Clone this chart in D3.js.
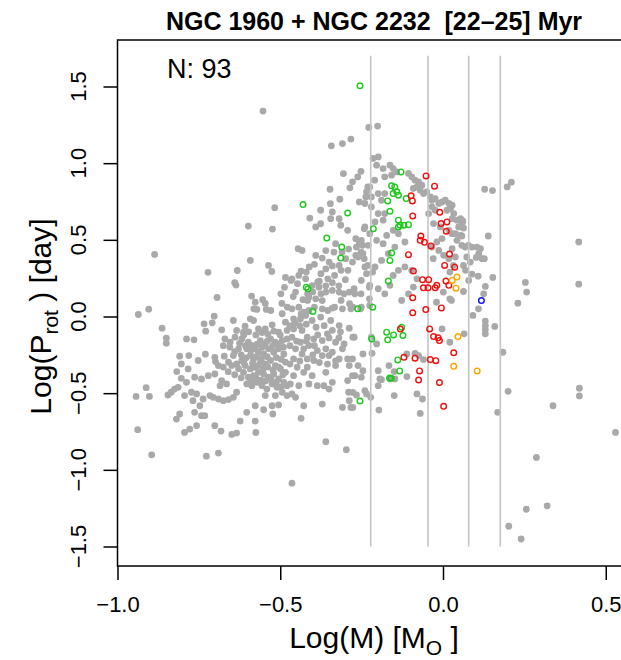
<!DOCTYPE html>
<html>
<head>
<meta charset="utf-8">
<script src="https://cdn.jsdelivr.net/npm/d3@7"></script>
<style>
  body { margin: 0; background: #fff; }
  text { font-family: "Liberation Sans", Arial, Helvetica, sans-serif; white-space: pre; }
</style>
</head>
<body>
<div id="chart"></div>
<script>
var xTicks = [-1.0, -0.5, 0.0, 0.5];
var yTicks = [-1.5, -1.0, -0.5, 0.0, 0.5, 1.0, 1.5];
// log10 of 0.6, 0.9, 1.2, 1.5 Msun
var massLines = [-0.222, -0.046, 0.079, 0.176];
var titleText = "NGC 1960 + NGC 2232  [22\u201325] Myr";
var countText = "N: 93";

// [log M, log P] of all stars (grey)
var grayStars = [
  [-0.553,1.34],[-0.517,0.71],[-0.598,0.59],[-0.524,0.57],[-0.886,0.405],[-0.592,0.366],[-0.536,0.333],[-0.526,0.294],
  [-0.722,0.288],[-0.632,0.30],[-0.64,0.22],[-0.636,0.205],[-0.484,0.255],[-0.487,0.19],[-0.694,0.124],[-0.588,0.133],
  [-0.577,0.093],[-0.554,0.11],[-0.546,0.085],[-0.495,0.085],[-0.498,0.148],[-0.581,0.050],[-0.529,0.039],[-0.478,0.061],
  [-0.936,0.013],[-0.904,0.048],[-0.863,-0.076],[-0.850,-0.141],[-0.850,-0.174],[-0.788,-0.146],[-0.765,-0.152],[-0.734,-0.048],
  [-0.709,-0.041],[-0.703,0.002],[-0.729,-0.096],[-0.680,-0.087],[-0.644,-0.026],[-0.572,0.046],[-0.543,0.046],[-0.608,-0.063],
  [-0.592,-0.015],[-0.582,-0.026],[-0.567,-0.081],[-0.546,-0.081],[-0.525,-0.054],[-0.494,0.018],[-0.484,-0.037],[-0.505,-0.102],
  [-0.479,-0.091],[-0.634,-0.091],[-0.613,-0.102],
  [-0.670,-0.146],[-0.654,-0.168],[-0.639,-0.135],[-0.618,-0.146],[-0.598,-0.168],[-0.587,-0.189],[-0.577,-0.211],[-0.561,-0.157],
  [-0.546,-0.179],[-0.530,-0.146],[-0.515,-0.168],[-0.494,-0.157],[-0.479,-0.146],[-0.603,-0.211],[-0.592,-0.255],[-0.582,-0.277],
  [-0.567,-0.233],[-0.551,-0.244],[-0.536,-0.211],[-0.520,-0.233],[-0.505,-0.211],[-0.489,-0.244],[-0.484,-0.298],[-0.628,-0.211],
  [-0.644,-0.255],[-0.659,-0.298],[-0.649,-0.320],[-0.634,-0.309],[-0.618,-0.287],[-0.608,-0.320],[-0.592,-0.342],[-0.577,-0.331],
  [-0.561,-0.298],[-0.546,-0.309],[-0.530,-0.287],[-0.515,-0.320],[-0.499,-0.342],[-0.484,-0.364],[-0.613,-0.364],[-0.598,-0.396],
  [-0.582,-0.385],[-0.567,-0.364],[-0.551,-0.375],[-0.536,-0.396],[-0.520,-0.375],[-0.505,-0.407],[-0.489,-0.429],[-0.479,-0.451],
  [-0.603,-0.440],[-0.587,-0.451],[-0.572,-0.429],[-0.556,-0.451],[-0.541,-0.473],[-0.525,-0.440],[-0.510,-0.462],[-0.494,-0.494],
  [-0.479,-0.516],
  [-0.612,-0.120],[-0.597,-0.100],[-0.575,-0.120],[-0.556,-0.105],[-0.538,-0.115],[-0.520,-0.095],[-0.500,-0.120],
  [-0.625,-0.175],[-0.607,-0.190],[-0.590,-0.222],[-0.571,-0.180],[-0.556,-0.200],[-0.540,-0.160],[-0.523,-0.190],[-0.507,-0.180],
  [-0.490,-0.200],[-0.640,-0.230],[-0.620,-0.250],[-0.605,-0.270],[-0.575,-0.262],[-0.558,-0.275],[-0.540,-0.262],[-0.512,-0.268],
  [-0.497,-0.280],[-0.628,-0.340],[-0.612,-0.300],[-0.585,-0.305],[-0.568,-0.320],[-0.553,-0.340],[-0.538,-0.330],[-0.522,-0.350],
  [-0.505,-0.330],[-0.492,-0.380],[-0.590,-0.420],[-0.575,-0.400],[-0.560,-0.415],[-0.545,-0.420],[-0.528,-0.410],[-0.512,-0.430],
  [-0.497,-0.460],[-0.620,-0.400],[-0.640,-0.380],[-0.660,-0.360],[-0.675,-0.330],[-0.690,-0.320],[-0.655,-0.200],[-0.675,-0.190],
  [-0.809,-0.259],[-0.781,-0.255],[-0.804,-0.309],[-0.818,-0.359],[-0.783,-0.342],[-0.752,-0.287],[-0.730,-0.246],[-0.701,-0.266],
  [-0.699,-0.294],[-0.672,-0.259],[-0.804,-0.403],[-0.788,-0.429],[-0.763,-0.396],[-0.742,-0.407],[-0.721,-0.386],[-0.701,-0.375],
  [-0.680,-0.418],[-0.685,-0.451],[-0.665,-0.440],[-0.814,-0.462],[-0.835,-0.494],[-0.845,-0.512],[-0.825,-0.473],[-0.794,-0.516],
  [-0.773,-0.494],[-0.757,-0.505],[-0.737,-0.538],[-0.716,-0.516],[-0.706,-0.527],[-0.690,-0.538],[-0.675,-0.549],[-0.659,-0.542],
  [-0.644,-0.527],[-0.634,-0.494],[-0.912,-0.464],[-0.943,-0.521],[-0.902,-0.521],[-0.768,-0.549],[-0.763,-0.625],[-0.747,-0.582],
  [-0.742,-0.647],[-0.732,-0.647],[-0.809,-0.636],[-0.819,-0.669],[-0.794,-0.756],[-0.778,-0.734],[-0.757,-0.712],[-0.701,-0.712],
  [-0.682,-0.747],[-0.649,-0.769],[-0.634,-0.760],[-0.623,-0.682],[-0.603,-0.625],[-0.577,-0.682],[-0.575,-0.756],[-0.938,-0.738],
  [-0.895,-0.902],[-0.727,-0.911],[-0.690,-0.891],[-0.577,-0.582],[-0.551,-0.608],[-0.525,-0.582],[-0.523,-0.636],[-0.505,-0.577],
  [-0.546,-0.516],[-0.515,-0.516],
  [-0.343,1.113],[-0.309,1.128],[-0.283,1.157],[-0.306,0.932],[-0.278,0.878],[-0.347,0.830],[-0.286,0.839],[-0.346,0.736],
  [-0.317,0.765],[-0.376,0.693],[-0.340,0.682],[-0.409,0.642],[-0.345,0.638],[-0.319,0.638],[-0.391,0.584],[-0.376,0.605],
  [-0.314,0.595],[-0.293,0.562],[-0.330,0.475],[-0.445,0.442],[-0.433,0.431],[-0.391,0.398],[-0.371,0.381],[-0.350,0.355],
  [-0.335,0.420],[-0.319,0.333],[-0.299,0.377],[-0.278,0.355],[-0.288,0.159],[-0.304,0.148],[-0.319,0.159],[-0.340,0.170],
  [-0.360,0.159],[-0.381,0.191],[-0.402,0.202],[-0.422,0.246],[-0.443,0.268],[-0.464,0.246],[-0.453,0.159],[-0.412,0.126],
  [-0.391,0.115],[-0.371,0.104],
  [-0.460,0.130],[-0.430,0.110],[-0.400,0.160],[-0.380,0.230],[-0.360,0.200],[-0.340,0.220],[-0.320,0.200],[-0.300,0.240],
  [-0.420,0.290],[-0.395,0.340],[-0.360,0.310],[-0.340,0.330],[-0.310,0.420],[-0.290,0.440],[-0.360,0.430],
  [-0.228,1.233],[-0.201,1.242],[-0.252,0.947],[-0.262,0.910],[-0.231,0.845],[-0.237,0.780],[-0.257,0.747],[-0.242,0.573],
  [-0.268,0.507],[-0.257,0.475],[-0.247,0.464],[-0.268,0.398],[-0.252,0.420],[-0.242,0.377],[-0.231,0.333],[-0.216,0.290],
  [-0.226,0.191],[-0.252,0.148],[-0.273,0.181],[-0.226,0.115],
  [-0.436,0.296],[-0.411,0.323],[-0.375,0.279],[-0.385,0.225],[-0.354,0.246],[-0.333,0.268],[-0.313,0.301],[-0.447,0.214],
  [-0.467,0.235],[-0.416,0.148],[-0.375,0.148],[-0.436,0.017],[-0.416,0.105],[-0.395,0.061],[-0.354,0.039],[-0.333,0.061],
  [-0.313,0.105],[-0.287,0.083],[-0.271,0.148],[-0.251,0.061],[-0.292,0.301],[-0.240,0.323],[-0.261,0.388],
  [-0.199,1.041],[-0.215,1.031],[-0.204,0.987],[-0.184,0.965],[-0.163,0.987],[-0.153,0.965],[-0.142,0.943],[-0.158,0.922],
  [-0.179,0.911],[-0.210,0.889],[-0.225,0.845],[-0.235,0.813],[-0.220,0.780],[-0.199,0.802],[-0.179,0.802],[-0.189,0.758],
  [-0.240,0.737],[-0.220,0.715],[-0.199,0.671],[-0.179,0.671],[-0.184,0.628],[-0.209,0.617],[-0.240,0.584],[-0.225,0.540],
  [-0.251,0.497],[-0.266,0.453],[-0.246,0.410],[-0.230,0.464],[-0.204,0.497],[-0.184,0.475],[-0.173,0.529],[-0.153,0.562],
  [-0.137,0.540],[-0.117,0.486],[-0.148,0.453],[-0.168,0.410],[-0.189,0.366],[-0.209,0.323],[-0.235,0.279],[-0.251,0.235],
  [-0.225,0.203],[-0.199,0.181],[-0.179,0.148],[-0.163,0.203],[-0.153,0.268],[-0.137,0.301],[-0.117,0.323],[-0.096,0.301],
  [-0.080,0.246],[-0.091,0.192],[-0.106,0.148],[-0.127,0.105],
  [-0.106,0.933],[-0.096,0.911],[-0.086,0.889],[-0.075,0.878],[-0.080,0.845],[-0.091,0.835],[-0.070,0.824],[-0.065,0.856],
  [-0.060,0.802],[-0.050,0.813],[-0.039,0.780],[-0.034,0.758],[-0.024,0.769],[-0.013,0.737],[-0.003,0.747],[0.007,0.758],
  [0.018,0.737],[0.028,0.726],[0.023,0.704],[0.012,0.693],[0.033,0.671],[0.028,0.638],[0.043,0.628],[0.054,0.638],
  [0.059,0.606],[0.048,0.584],[0.038,0.540],[0.054,0.529],[0.043,0.497],[-0.034,0.715],[-0.024,0.693],[-0.044,0.671],
  [-0.029,0.606],[-0.008,0.584],[0.018,0.562],[0.028,0.540],[-0.003,0.508],[-0.019,0.486],[-0.034,0.453],[-0.013,0.431],
  [0.002,0.399],[0.028,0.442],[0.018,0.377],[0.038,0.388],[0.032,0.333],[0.021,0.290],[-0.030,0.377],[0.001,0.159],
  [0.021,0.115],[-0.020,0.093],
  [0.128,0.830],[0.152,0.821],[0.197,0.845],[0.210,0.876],[0.061,0.623],[0.063,0.577],[0.058,0.525],[0.139,0.525],
  [0.058,0.464],[0.068,0.453],[0.078,0.464],[0.089,0.453],[0.104,0.453],[0.115,0.442],[0.073,0.388],[0.102,0.385],
  [0.120,0.377],[0.127,0.377],[0.063,0.333],[0.084,0.355],[0.089,0.276],[0.108,0.263],[0.153,0.255],[0.130,0.196],
  [0.125,0.148],[0.063,0.163],[0.417,0.486],[0.417,0.211],[0.253,0.222],[0.257,0.159],[0.230,0.087],[0.079,0.235],
  [0.069,0.301],[0.110,0.410],
  [-0.464,0.050],[-0.443,0.061],[-0.428,0.028],[-0.412,0.039],[-0.371,0.050],[-0.340,0.055],[-0.309,0.050],[-0.283,0.050],
  [-0.459,-0.015],[-0.438,-0.015],[-0.422,0.007],[-0.402,-0.026],[-0.376,-0.004],[-0.345,-0.026],[-0.319,-0.059],[-0.288,-0.076],
  [-0.304,-0.179],[-0.330,-0.168],[-0.355,-0.113],[-0.371,-0.157],[-0.397,-0.146],[-0.417,-0.135],[-0.433,-0.091],[-0.459,-0.081],
  [-0.464,-0.135],[-0.438,-0.168],[-0.412,-0.189],[-0.386,-0.222],[-0.453,-0.211],[-0.428,-0.211],[-0.360,-0.211],[-0.340,-0.233],
  [-0.309,-0.211],[-0.293,-0.277],[-0.319,-0.277],[-0.350,-0.255],[-0.371,-0.255],[-0.397,-0.287],[-0.417,-0.277],[-0.433,-0.244],
  [-0.459,-0.277],[-0.448,-0.331],[-0.417,-0.331],[-0.402,-0.386],[-0.428,-0.364],[-0.459,-0.386],[-0.469,-0.440],[-0.443,-0.451],
  [-0.412,-0.440],[-0.386,-0.451],[-0.366,-0.451],[-0.350,-0.473],[-0.340,-0.429],[-0.360,-0.364],[-0.330,-0.320],[-0.288,-0.320],
  [-0.293,-0.418],[-0.290,-0.494],[-0.288,-0.549],[-0.309,-0.593],[-0.283,-0.593],[-0.371,-0.571],[-0.428,-0.582],[-0.464,-0.505],
  [-0.453,-0.527],[-0.436,-0.664],[-0.360,-0.817],[-0.297,-0.869],[-0.464,-1.087],[-0.273,-0.135],[-0.278,-0.277],[-0.278,-0.386],
  [-0.470,-0.060],[-0.455,-0.040],[-0.440,-0.060],[-0.420,-0.050],[-0.390,-0.070],[-0.365,-0.060],[-0.340,-0.090],[-0.315,-0.100],
  [-0.470,-0.190],[-0.450,-0.160],[-0.420,-0.160],[-0.395,-0.190],[-0.385,-0.120],[-0.350,-0.140],[-0.320,-0.140],
  [-0.470,-0.310],[-0.440,-0.290],[-0.400,-0.250],[-0.380,-0.300],[-0.355,-0.310],[-0.330,-0.290],
  [-0.277,0.061],[-0.253,0.050],[-0.225,0.072],[-0.277,-0.135],[-0.246,-0.244],[-0.220,-0.135],[-0.204,-0.179],[-0.246,-0.353],
  [-0.251,-0.396],[-0.271,-0.386],[-0.277,-0.495],[-0.266,-0.512],[-0.240,-0.484],[-0.235,-0.505],[-0.222,-0.527],[-0.277,-0.593],
  [-0.261,-0.320],[-0.218,-0.240],[-0.199,-0.353],[-0.194,-0.407],[-0.189,-0.412],[-0.199,-0.451],[-0.197,-0.610],[-0.150,-0.516],
  [-0.166,-0.320],[-0.150,-0.359],[-0.163,-0.407],[-0.148,-0.407],[-0.111,-0.244],[-0.086,-0.240],[-0.075,-0.255],[-0.060,-0.281],
  [-0.080,-0.505],[-0.063,-0.538],[-0.070,-0.632],[-0.111,-0.392],[-0.003,-0.081],[0.021,-0.168],[0.026,0.105],
  [0.109,0.050],[0.092,0.007],[0.130,-0.030],[0.130,-0.059],[0.130,-0.085],[0.130,-0.113],[0.159,-0.065],[0.065,-0.113],
  [0.184,-0.233],[0.200,-0.488],[0.168,-0.625],[0.338,-0.582],[0.419,-0.468],[0.419,-0.518],[0.530,-0.756],[0.287,-0.919],
  [0.256,-1.257],[0.320,-1.235],[0.202,-1.368],[0.240,-1.451]
];

// cluster members by mass bin
var greenStars = [
  [-0.255,1.505],[-0.430,0.730],[-0.293,0.675],[-0.357,0.512],[-0.311,0.453],[-0.314,0.381],[-0.420,0.191],[-0.415,0.181],
  [-0.214,0.573],[-0.168,0.231],[-0.158,0.414],[-0.163,0.366],[-0.129,0.943],[-0.158,0.852],[-0.148,0.845],[-0.142,0.813],
  [-0.137,0.791],[-0.153,0.802],[-0.170,0.754],[-0.163,0.686],[-0.137,0.628],[-0.132,0.595],[-0.137,0.584],[-0.106,0.599],
  [-0.120,0.595],[-0.113,0.769],
  [-0.400,0.033],[-0.262,0.050],[-0.216,0.061],[-0.173,-0.102],[-0.152,-0.120],[-0.123,-0.124],[-0.127,-0.070],[-0.170,-0.152],
  [-0.219,-0.146],[-0.139,-0.283],[-0.133,-0.355],[-0.164,-0.401],[-0.159,-0.403],[-0.255,-0.551]
];
var redStars = [
  [-0.052,0.917],[-0.026,0.850],[-0.098,0.787],[-0.094,0.754],[-0.093,0.656],[-0.010,0.680],[-0.006,0.606],[0.012,0.617],
  [0.010,0.556],[-0.068,0.525],[-0.070,0.497],[-0.057,0.484],[-0.037,0.460],[-0.106,0.403],[0.020,0.407],[0.005,0.333],
  [0.036,0.322],[-0.091,0.296],[-0.063,0.240],[-0.044,0.240],[-0.060,0.187],[-0.046,0.187],[-0.019,0.203],[-0.024,0.187],
  [0.009,0.231],[0.018,0.203],[-0.093,0.122],
  [-0.093,0.024],[-0.053,0.045],[-0.005,0.056],[-0.041,-0.081],[-0.029,-0.131],[-0.015,-0.139],[-0.011,-0.157],[0.033,-0.237],
  [-0.120,-0.266],[-0.086,-0.272],[-0.039,-0.281],[-0.022,-0.288],[-0.072,-0.355],[-0.075,-0.414],[-0.011,-0.431],[0.002,-0.586],
  [-0.131,-0.082]
];
var orangeStars = [[0.028,0.235],[0.043,0.257],[0.040,0.185],[0.046,-0.131],[0.033,-0.325],[0.105,-0.355]];
var blueStars = [[0.118,0.104]];

var width = 621, height = 660;
var plotLeft = 117.5, plotTop = 40, plotBottom = 566;

var x = d3.scaleLinear().domain([-1, 0.6]).range([plotLeft, plotLeft + 1.6 * 325.5]);
var y = d3.scaleLinear().domain([-1.5, 1.5]).range([546.5, 86.5]);

var svg = d3.select("#chart").append("svg")
  .attr("width", width)
  .attr("height", height);

// grey field stars
svg.append("g")
  .selectAll("circle")
  .data(grayStars)
  .join("circle")
  .attr("cx", d => x(d[0]))
  .attr("cy", d => y(d[1]))
  .attr("r", 3.4)
  .attr("fill", "#a9a9a9");

// mass bin boundaries
svg.append("g")
  .selectAll("line")
  .data(massLines)
  .join("line")
  .attr("x1", d => x(d)).attr("x2", d => x(d))
  .attr("y1", y(1.7)).attr("y2", y(-1.5))
  .attr("stroke", "#c4c4c4")
  .attr("stroke-width", 1.6);

function drawRing(data, colour) {
  svg.append("g")
    .selectAll("circle")
    .data(data)
    .join("circle")
    .attr("cx", d => x(d[0]))
    .attr("cy", d => y(d[1]))
    .attr("r", 2.8)
    .attr("fill", "none")
    .attr("stroke", colour)
    .attr("stroke-width", 1.4);
}
drawRing(greenStars, "#1ec81e");
drawRing(redStars, "#f01010");
drawRing(orangeStars, "#ffa500");
drawRing(blueStars, "#1010ff");

// plot box (right side runs off the picture)
svg.append("rect")
  .attr("x", plotLeft)
  .attr("y", plotTop)
  .attr("width", 600)
  .attr("height", plotBottom - plotTop)
  .attr("fill", "none")
  .attr("stroke", "#000")
  .attr("stroke-width", 1.5);

// x axis
var xAxis = svg.append("g")
  .attr("transform", `translate(0,${plotBottom})`)
  .call(d3.axisBottom(x).tickValues(xTicks).tickSize(14).tickPadding(16)
    .tickFormat(d3.format(".1f")));
xAxis.select(".domain").remove();
xAxis.selectAll("line").attr("stroke-width", 1.5);
xAxis.selectAll("text").attr("font-size", 22).attr("fill", "#000")
  .style("font-family", "'Liberation Sans', Arial, sans-serif");

// y axis
var yAxis = svg.append("g")
  .attr("transform", `translate(${plotLeft},0)`)
  .call(d3.axisLeft(y).tickValues(yTicks).tickSize(14).tickFormat(""));
yAxis.select(".domain").remove();
yAxis.selectAll("line").attr("stroke-width", 1.5);

svg.append("g")
  .selectAll("text")
  .data(yTicks)
  .join("text")
  .attr("transform", d => `translate(${plotLeft - 32},${y(d)})rotate(-90)`)
  .attr("text-anchor", "middle")
  .attr("font-size", 22)
  .text(d => d3.format(".1f")(d));

// title and labels
svg.append("text")
  .attr("x", 374)
  .attr("y", 30)
  .attr("text-anchor", "middle")
  .attr("font-size", 25)
  .attr("font-weight", "bold")
  .text(titleText);

svg.append("text")
  .attr("x", 167)
  .attr("y", 78)
  .attr("font-size", 27)
  .text(countText);

var xLabel = svg.append("text")
  .attr("x", 374)
  .attr("y", 648)
  .attr("text-anchor", "middle")
  .attr("font-size", 30);
xLabel.append("tspan").text("Log(M) [M");
xLabel.append("tspan").attr("font-size", 21).attr("dy", 7).text("O");
xLabel.append("tspan").attr("dy", -7).text(" ]");

var yLabel = svg.append("text")
  .attr("transform", `translate(51,${y(0)})rotate(-90)`)
  .attr("text-anchor", "middle")
  .attr("font-size", 30);
yLabel.append("tspan").text("Log(P");
yLabel.append("tspan").attr("font-size", 21).attr("dy", 7).text("rot");
yLabel.append("tspan").attr("dy", -7).text(" ) [day]");
</script>
</body>
</html>
